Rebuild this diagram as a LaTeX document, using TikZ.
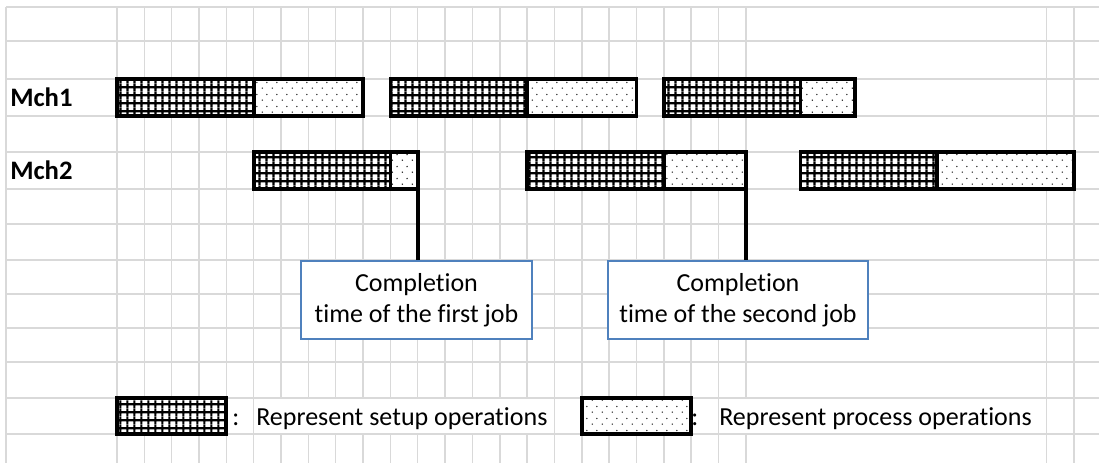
\documentclass[tikz,border=0pt]{standalone}
\usepackage{fontspec}
\setmainfont{Carlito}[Ligatures={NoCommon}]
\usepackage{tikz}
\usetikzlibrary{patterns}
\definecolor{cGrid}{HTML}{D9D9D9}
\definecolor{cNote}{HTML}{4F81BD}

% dense black cross-hatch (setup) and staggered grey dots (process)
\pgfdeclarepatternformonly{setupgrid}{\pgfqpoint{0pt}{0pt}}{\pgfqpoint{5.2pt}{5.8pt}}{\pgfqpoint{5.2pt}{5.8pt}}{
  \pgfsetlinewidth{1.6pt}
  \pgfpathmoveto{\pgfqpoint{0pt}{2.9pt}}\pgfpathlineto{\pgfqpoint{5.2pt}{2.9pt}}
  \pgfpathmoveto{\pgfqpoint{2.6pt}{0pt}}\pgfpathlineto{\pgfqpoint{2.6pt}{5.8pt}}
  \pgfusepath{stroke}}
\pgfdeclarepatternformonly{procdots}{\pgfqpoint{0pt}{0pt}}{\pgfqpoint{7.5pt}{9pt}}{\pgfqpoint{7.5pt}{9pt}}{
  \pgfpathcircle{\pgfqpoint{1.875pt}{2.25pt}}{0.62pt}
  \pgfpathcircle{\pgfqpoint{5.625pt}{6.75pt}}{0.62pt}
  \pgfusepath{fill}}

\begin{document}
\begin{tikzpicture}[
  x=0.75pt, y=-0.75pt,
  font=\fontsize{19.5}{23.25}\selectfont,
  gridln/.style = {draw=cGrid, line width=1.1pt},
  setup/.style  = {draw=black, line width=2.8pt, preaction={fill=white},
                   pattern=setupgrid, pattern color=black,
                   inner sep=0pt, outer sep=0pt, minimum height=27.75pt,
                   anchor=north west},
  proc/.style   = {setup, pattern=procdots, pattern color=black!85},
  note/.style   = {draw=cNote, line width=1pt, fill=white, align=center,
                   minimum height=58.5pt, inner sep=0pt},
  mch/.style    = {font=\fontsize{20}{24}\selectfont\bfseries, anchor=base west, inner sep=0pt},
  txt/.style    = {anchor=base west, inner sep=0pt},
  conn/.style   = {draw=black, line width=2.8pt},
]
\useasboundingbox (0,0) rectangle (1099,463);

% spreadsheet grid; the two legend captions hide the lines they run over
\foreach \y in {7,41,79,116,152,189,224,260,294,328,362,398,434}
  \draw[gridln] (6,\y) -- (1099,\y);
\draw[gridln] (6,7) -- (6,463);
\foreach \k in {0,...,5,16,17,...,22,34,35}
  \draw[gridln] ({117+27.34*\k},7) -- ({117+27.34*\k},463);
\foreach \k in {6,...,15,23,...,33} {
  \draw[gridln] ({117+27.34*\k},7) -- ({117+27.34*\k},398);
  \draw[gridln] ({117+27.34*\k},434) -- ({117+27.34*\k},463);
}

\node[mch] (m1) at (10,107) {Mch1};
\node[mch] (m2) at (10,180) {Mch2};

% machine/job : start column / setup end / process end
\foreach \r/\j/\a/\b/\c/\yt in {1/1/0/5/9/79, 1/2/10/15/19/79, 1/3/20/25/27/79,
                                2/1/5/10/11/152, 2/2/15/20/23/152, 2/3/25/30/35/152} {
  \node[setup, minimum width={(\b-\a)*20.505pt}] (s\r\j) at ({117+27.34*\a},\yt) {};
  \node[proc,  minimum width={(\c-\b)*20.505pt}] (p\r\j) at (s\r\j.north east) {};
}

\node[note, minimum width=173.25pt] (cmp1) at (416.5,300) {Completion\\time of the first job};
\node[note, minimum width=195pt]    (cmp2) at (738,300)   {Completion\\time of the second job};
\draw[conn] (p21.south east) -- (p21.south east |- cmp1.north);
\draw[conn] (p22.south east) -- (p22.south east |- cmp2.north);

% legend
\node[setup, minimum width=82.02pt, minimum height=27pt] (ks) at (117,398) {};
\node[txt] (ksc) at (232,425) {:};
\node[txt] (kst) at (256,425) {Represent setup operations};
\node[proc, minimum width=82.02pt, minimum height=27pt] (kp) at ({117+27.34*17},398) {};
\node[txt] (kpc) at (691,425) {:};
\node[txt] (kpt) at (719,425) {Represent process operations};
\end{tikzpicture}
\end{document}
